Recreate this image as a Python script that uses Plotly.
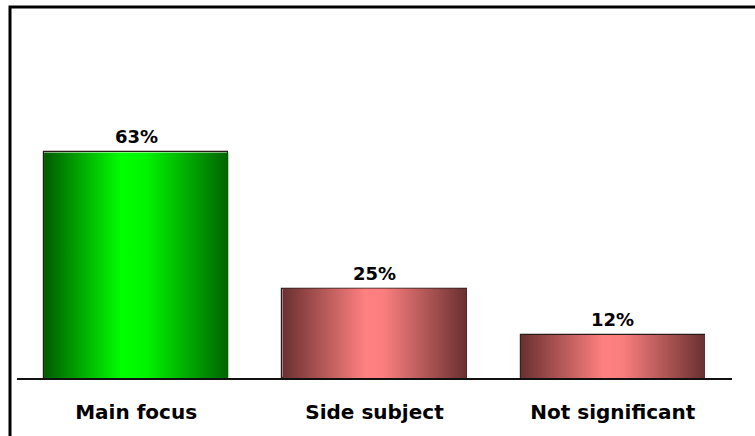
import plotly.graph_objects as go

# Share of responses per category
categories = ["Main focus", "Side subject", "Not significant"]
values = [63, 25, 12]
value_labels = ["63%", "25%", "12%"]

# Horizontal "cylinder" shading for each bar
green_scale = [[0.0, "#005c00"], [0.42, "#00ff00"], [0.55, "#00f500"], [1.0, "#006400"]]
red_scale = [[0.0, "#6a3030"], [0.45, "#ff8080"], [0.55, "#fb7e7e"], [1.0, "#6a3030"]]
bar_scales = [green_scale, red_scale, red_scale]

BAR_WIDTH = 0.773

fig = go.Figure()

# Gradient-filled bodies, built from each category index and value
for i, (v, scale) in enumerate(zip(values, bar_scales)):
    x0, x1 = i - BAR_WIDTH / 2, i + BAR_WIDTH / 2
    fig.add_trace(go.Scatter(
        x=[x0, x1, x1, x0, x0],
        y=[0, 0, v, v, 0],
        mode="lines",
        line=dict(width=0),
        fill="toself",
        fillgradient=dict(type="horizontal", colorscale=scale),
        hoverinfo="skip",
        showlegend=False,
    ))

# Bar outlines on top of the shaded bodies
fig.add_trace(go.Bar(
    x=list(range(len(categories))),
    y=values,
    width=BAR_WIDTH,
    marker=dict(color="rgba(0,0,0,0)", line=dict(color="#2a1a1a", width=1.2)),
    showlegend=False,
    hovertemplate="%{y}%<extra></extra>",
))

# Value labels above each bar
for i, (v, lab) in enumerate(zip(values, value_labels)):
    fig.add_annotation(
        x=i, y=v, text=lab, showarrow=False,
        yanchor="bottom", yshift=3,
        font=dict(family="DejaVu Sans", size=18, color="#000000", weight="bold"),
    )

# Frame lines along the left and top edges of the figure
fig.add_shape(
    type="path", xref="paper", yref="paper",
    path="M -0.0098,-0.2 L -0.0098,1.0363 L 1.05,1.0363",
    line=dict(color="#000000", width=3),
)

fig.update_layout(
    width=755, height=436,
    margin=dict(l=17, r=23, t=20, b=58, autoexpand=False),
    paper_bgcolor="white",
    plot_bgcolor="white",
    bargap=0,
)
fig.update_xaxes(
    range=[-0.5, 2.5],
    automargin=False,
    tickmode="array",
    tickvals=list(range(len(categories))),
    ticktext=categories,
    showline=True, linecolor="#111111", linewidth=2,
    showgrid=False, zeroline=False,
    ticks="outside", ticklen=15, tickcolor="rgba(0,0,0,0)",
    tickfont=dict(family="DejaVu Sans", size=20, color="#000000", weight="bold"),
)
fig.update_yaxes(
    range=[0, 100],
    visible=False,
    automargin=False,
    showgrid=False, zeroline=False,
)

fig.write_html("out.html")
